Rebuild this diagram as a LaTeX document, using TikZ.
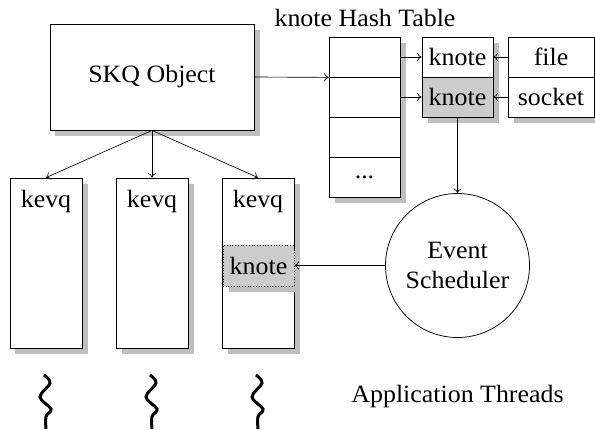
\documentclass[tikz,border=0pt]{standalone}
\usepackage{fontspec}
\setmainfont[FakeStretch=1.04]{Liberation Serif}
\usetikzlibrary{shadows,arrows.meta}
\begin{document}
\begin{tikzpicture}[x=1bp,y=-1bp,
  every node/.style={font=\fontsize{25}{30}\selectfont},
  sh/.style={drop shadow={shadow xshift=5.5bp,shadow yshift=-5.5bp,fill=black!25,opacity=1}},
  box/.style={draw, fill=white, line width=0.75bp, inner sep=0pt, sh},
  cell/.style={box, minimum width=71bp, minimum height=40bp},
  kq/.style={box, minimum width=72bp, minimum height=170bp},
  lbl/.style={anchor=base, inner sep=0pt},
  arr/.style={-{To[length=4.5bp,width=8bp]}, line width=0.65bp},
  thread/.style={line width=3bp}
]
\useasboundingbox (0,0) rectangle (595,429);

\node[box, minimum width=204bp, minimum height=106bp] (skq) at (152,77) {SKQ Object};

\node[lbl] (title) at (365,26) {knote Hash Table};
\node[cell] (t1) at (364.5,57) {};
\node[cell] (t2) at (364.5,97) {};
\node[cell] (t3) at (364.5,137) {};
\node[cell] (t4) at (364.5,177) {...};

\node[cell] (k1) at (457.5,57) {knote};
\node[cell, fill=black!20] (k2) at (457.5,97) {knote};

\node[box, minimum width=86bp, minimum height=40bp] (f) at (551,57) {file};
\node[box, minimum width=86bp, minimum height=40bp] (s) at (551,97) {socket};

\node[draw, circle, line width=0.75bp, minimum size=144bp, inner sep=0pt, align=center] (es) at (457.5,265.5) {Event\\Scheduler};

\node[kq] (q1) at (46,263) {};
\node[kq] (q2) at (152,263) {};
\node[kq] (q3) at (258,263) {};
\node[lbl] (l1) at (46,207) {kevq};
\node[lbl] (l2) at (152,207) {kevq};
\node[lbl] (l3) at (258,207) {kevq};

\node[draw, dotted, fill=black!20, line width=0.75bp, inner sep=0pt, minimum width=71bp, minimum height=41bp, sh] (qk) at (258.5,265.5) {knote};

\draw[arr] (skq.east) -- (t1.south west);
\draw[arr] (t1.east) -- (k1.west);
\draw[arr] (t2.east) -- (k2.west);
\draw[arr] (f.west) -- (k1.east);
\draw[arr] (s.west) -- (k2.east);
\draw[arr] (k2.south) -- (es.north);
\draw[arr] (es.west) -- (qk.east);
\draw[arr] (skq.south) -- (q1.north);
\draw[arr] (skq.south) -- (q2.north);
\draw[arr] (skq.south) -- (q3.north);

\foreach \c in {46,152,258}{
  \draw[thread] plot[smooth, tension=0.6] coordinates {(\c-2,375) (\c+4,383) (\c-6,397) (\c+5,409) (\c,416.5) (\c,429)};
}

\node[lbl] (app) at (457.5,402) {Application Threads};
\end{tikzpicture}
\end{document}
